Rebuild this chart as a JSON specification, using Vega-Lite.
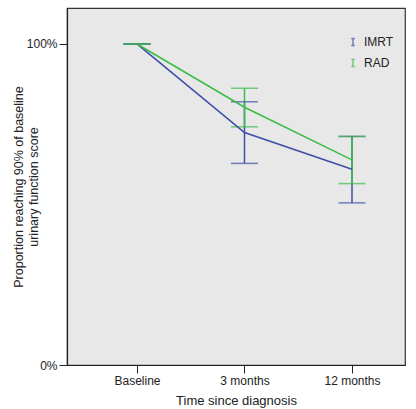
{
  "$schema": "https://vega.github.io/schema/vega-lite/v6.json",
  "width": 338,
  "height": 357,
  "autosize": "none",
  "padding": {"left": 67, "top": 8, "right": 11, "bottom": 44},
  "background": "white",
  "config": {
    "font": "Liberation Sans",
    "view": {"fill": "#e8e8e8", "stroke": "#333333", "strokeWidth": 1.2},
    "axis": {"grid": false, "domainColor": "#222222", "tickColor": "#222222", "labelColor": "#222222", "titleColor": "#222222", "labelFontSize": 12, "titleFontSize": 12.5, "titleFontWeight": "normal", "tickSize": 8, "labelPadding": 2, "domainWidth": 1.2}
  },
  "data": {
    "values": [
      {"t": 0, "time": "Baseline", "group": "IMRT", "mean": 1.0, "lo": 1.0, "hi": 1.0},
      {"t": 1, "time": "3 months", "group": "IMRT", "mean": 0.724, "lo": 0.628, "hi": 0.82},
      {"t": 2, "time": "12 months", "group": "IMRT", "mean": 0.61, "lo": 0.505, "hi": 0.712},
      {"t": 0, "time": "Baseline", "group": "RAD", "mean": 1.0, "lo": 1.0, "hi": 1.0},
      {"t": 1, "time": "3 months", "group": "RAD", "mean": 0.803, "lo": 0.742, "hi": 0.862},
      {"t": 2, "time": "12 months", "group": "RAD", "mean": 0.639, "lo": 0.565, "hi": 0.712}
    ]
  },
  "encoding": {
    "x": {"field": "t", "type": "quantitative", "scale": {"domain": [-0.651, 2.493], "nice": false, "zero": false},
      "axis": {"values": [0, 1, 2], "labelExpr": "datum.value == 0 ? 'Baseline' : datum.value == 1 ? '3 months' : '12 months'", "title": "Time since diagnosis", "titleFontSize": 13, "titlePadding": 8, "labelFlush": false}},
    "color": {"field": "group", "type": "nominal", "scale": {"domain": ["IMRT", "RAD"], "range": ["#3f4ea6", "#3cbd48"]},
      "legend": {"title": null, "orient": "none", "legendX": 280, "legendY": 28, "symbolType": "M-0.5,-1H0.5M0,-1V1M-0.5,1H0.5", "symbolSize": 50, "symbolStrokeWidth": 1.5, "labelFontSize": 12, "labelColor": "#222222", "rowPadding": 7, "labelOffset": 5}}
  },
  "layer": [
    {
      "mark": {"type": "rule", "strokeWidth": 1.5},
      "encoding": {
        "y": {"field": "lo", "type": "quantitative", "scale": {"domain": [0, 1.112], "nice": false},
          "axis": {"values": [0, 1], "format": ".0%", "title": ["Proportion reaching 90% of baseline", "urinary function score"], "titlePadding": -14, "titleLineHeight": 15}},
        "y2": {"field": "hi"}
      }
    },
    {
      "mark": {"type": "tick", "orient": "horizontal", "size": 27, "thickness": 1.5},
      "encoding": {"y": {"field": "lo", "type": "quantitative"}}
    },
    {
      "mark": {"type": "tick", "orient": "horizontal", "size": 27, "thickness": 1.5},
      "encoding": {"y": {"field": "hi", "type": "quantitative"}}
    },
    {
      "mark": {"type": "line", "strokeWidth": 1.6},
      "encoding": {"y": {"field": "mean", "type": "quantitative"}}
    }
  ]
}
